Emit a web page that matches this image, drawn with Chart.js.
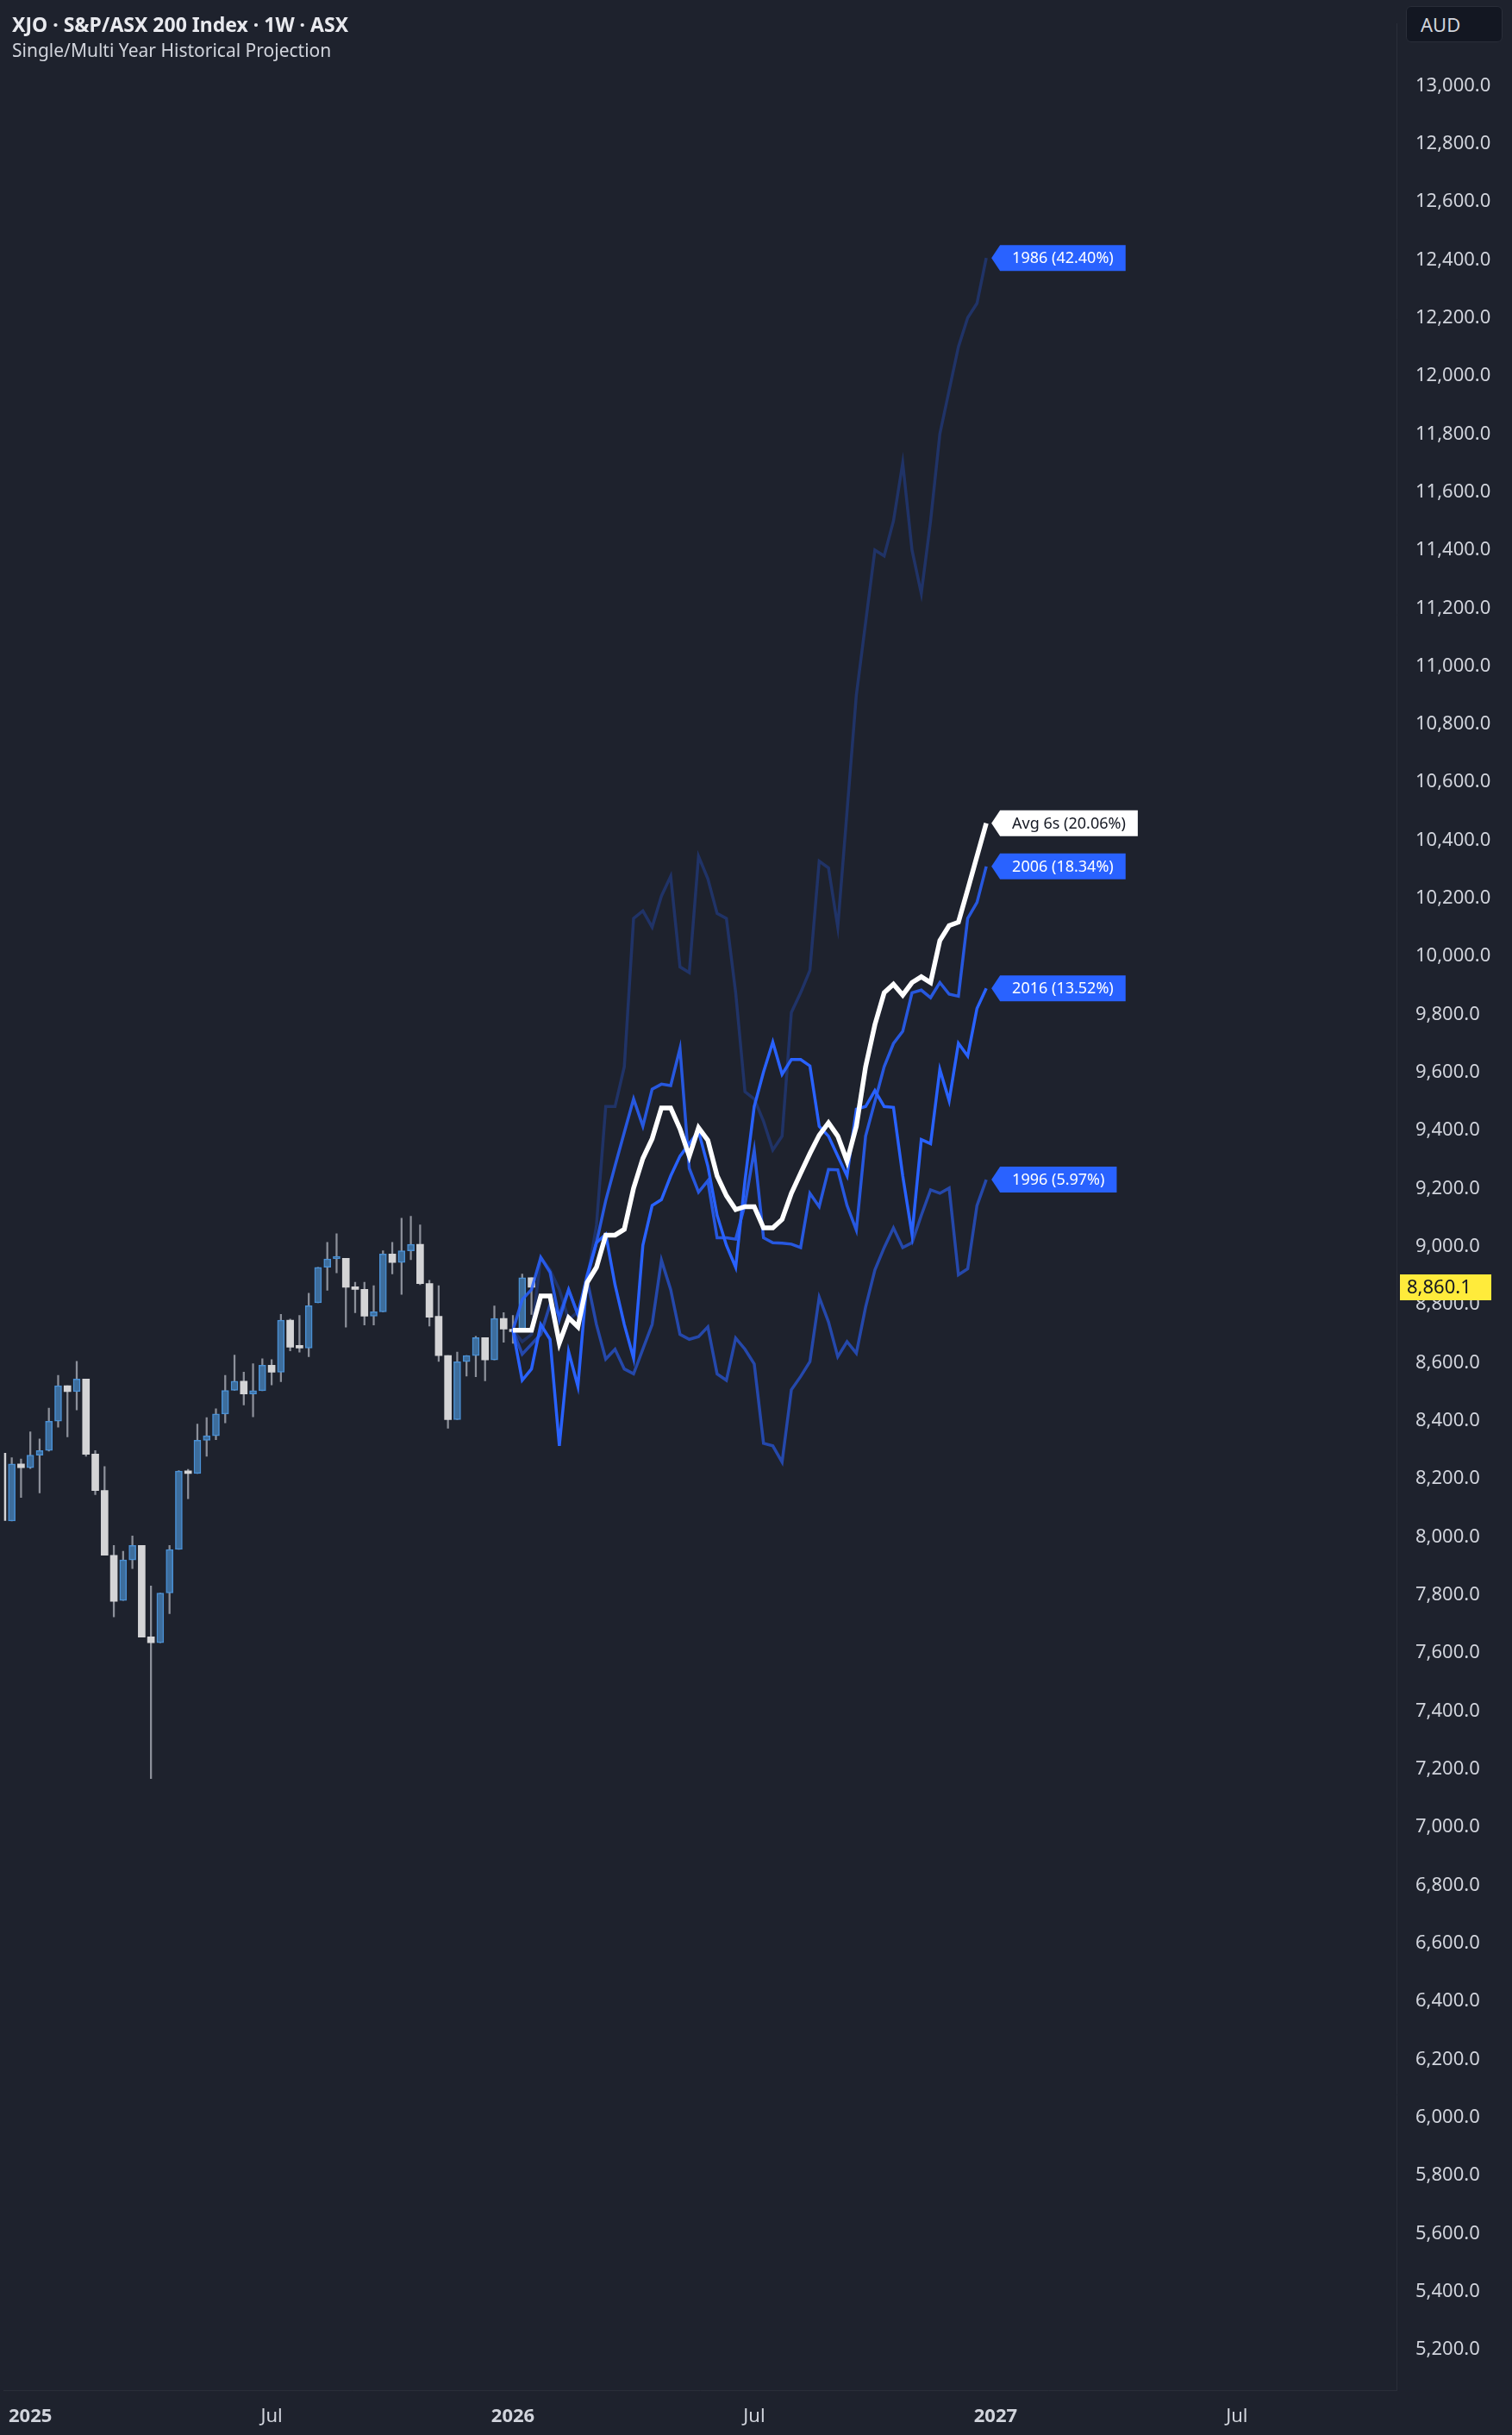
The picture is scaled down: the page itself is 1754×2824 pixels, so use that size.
<!DOCTYPE html>
<html>
<head>
<meta charset="utf-8">
<script src="https://cdn.jsdelivr.net/npm/chart.js@4.4.0/dist/chart.umd.min.js"></script>
<style>
  html, body { margin: 0; padding: 0; background: #1e222d; }
  #wrap { position: relative; width: 1754px; height: 2824px; }
  #title { position: absolute; left: 14px; top: 12px; color: #e8e9ee; font: bold 23px "Noto Sans", sans-serif; }
  #sub { position: absolute; left: 14px; top: 44px; color: #d1d4dc; font: 21px "Noto Sans", sans-serif; }
  #aud { position: absolute; left: 1631px; top: 7px; width: 112px; height: 42px; box-sizing: border-box;
         border: 1px solid #2a2e39; border-radius: 6px; background: #131722; color: #d1d4dc;
         font: 22px "Noto Sans", sans-serif; line-height: 40px; padding-left: 16px; }
</style>
</head>
<body>
<div id="wrap">
  <canvas id="chart" width="1754" height="2824"></canvas>
  <div id="title">XJO · S&amp;P/ASX 200 Index · 1W · ASX</div>
  <div id="sub">Single/Multi Year Historical Projection</div>
  <div id="aud">AUD</div>
</div>
<script>
// weekly candles, index 0 = week of 16 Dec 2024
const opens  = [8289,8055,8252,8239,8282,8298,8399,8521,8501,8544,8286,8160,7937,7781,7921,7971,7656,7636,7807,7957,
                8227,8219,8333,8349,8424,8505,8537,8493,8504,8592,8568,8747,8655,8651,8807,8929,8958,8960,8860,8853,
                8761,8776,8975,8946,8986,9008,8873,8760,8625,8404,8604,8625,8687,8610,8753,8716,8707,8893];
const closes = [8057,8252,8239,8282,8298,8399,8521,8501,8544,8285,8160,7937,7778,7921,7971,7655,7636,7807,7957,8227,
                8219,8333,8349,8424,8505,8537,8493,8504,8592,8568,8747,8654,8651,8797,8929,8958,8960,8860,8853,8761,
                8776,8975,8946,8986,9008,8873,8757,8625,8404,8604,8625,8687,8610,8753,8716,8707,8893,8860];
const highs  = [8289,8273,8269,8362,8338,8444,8557,8521,8605,8544,8298,8243,7971,7951,8004,7971,7831,7807,7971,8229,
                8233,8389,8411,8442,8557,8627,8568,8597,8614,8611,8767,8751,8763,8840,8929,9015,9045,8960,8878,8878,
                8866,8986,9015,9098,9105,9075,8884,8866,8625,8637,8625,8691,8687,8796,8773,8763,8906,8893];
const lows   = [8057,8055,8136,8236,8152,8296,8378,8345,8438,8278,8146,7937,7725,7781,7891,7655,7168,7636,7736,7957,
                8132,8219,8278,8335,8393,8505,8455,8414,8504,8524,8535,8641,8637,8621,8807,8850,8910,8723,8773,8730,
                8730,8776,8906,8836,8955,8869,8727,8605,8375,8404,8554,8552,8538,8610,8671,8667,8707,8767];

// projections start at week index 55 (5 Jan 2026)
const projStart = 55;
const avg6  = [8712,8712,8712,8830,8830,8668,8755,8724,8877,8929,9040,9040,9060,9202,9304,9372,9478,9478,9406,9312,
               9410,9367,9244,9176,9128,9138,9138,9065,9065,9094,9184,9253,9321,9384,9427,9381,9295,9415,9620,9765,
               9875,9904,9867,9910,9930,9910,10055,10106,10118,10230,10345,10459];
const y2016 = [8712,8540,8579,8732,8681,8314,8639,8519,8894,9014,9043,8869,8732,8616,9005,9142,9162,9244,9312,9355,
               9398,9278,9108,9005,8929,9227,9483,9602,9705,9594,9645,9645,9623,9415,9381,9312,9244,9474,9483,9538,
               9483,9480,9244,9043,9369,9355,9611,9503,9701,9657,9821,9890];
const y2006 = [8712,8818,8852,8963,8912,8749,8852,8766,8903,9014,9159,9278,9394,9509,9415,9543,9560,9555,9683,9270,
               9188,9227,9031,9031,9026,9145,9333,9031,9014,9012,9009,8997,9184,9138,9266,9265,9142,9057,9381,9500,
               9620,9700,9742,9875,9884,9858,9910,9870,9863,10131,10186,10310];
const y1996 = [8712,8630,8664,8698,8801,8766,8852,8766,8886,8732,8613,8647,8579,8562,8647,8732,8954,8852,8698,8681,
               8690,8724,8562,8540,8685,8647,8596,8323,8314,8258,8507,8553,8604,8826,8741,8621,8673,8633,8792,8920,
               8997,9065,8997,9014,9108,9196,9184,9202,8903,8924,9142,9231];
const y1986 = [8712,8673,8698,8963,8920,8852,8749,8775,8886,9074,9483,9483,9620,10131,10157,10101,10208,10276,9964,9944,
               10345,10268,10148,10131,9875,9534,9509,9432,9333,9381,9807,9875,9952,10328,10305,10101,10500,10900,11150,11400,
               11380,11500,11700,11400,11250,11500,11800,11950,12100,12200,12250,12406];

const xTickIdx = [3, 29, 55, 81, 107, 133];
const xTickLabels = ['2025', 'Jul', '2026', 'Jul', '2027', 'Jul'];
const lastPrice = 8860.1;

const FONT = '"Noto Sans", sans-serif';
const up = [], down = [];
const wicks = lows.map((l, i) => ({ x: i, y: [l, highs[i]] }));
opens.forEach((o, i) => {
  const c = closes[i];
  (c >= o ? up : down).push({ x: i, y: [Math.min(o, c), Math.max(o, c)] });
});
const proj = arr => arr.map((v, k) => ({ x: projStart + k, y: v }));

const series = [
  { label: '1986', data: y1986, color: 'rgba(41,98,255,0.28)', pct: '42.40%' },
  { label: '1996', data: y1996, color: 'rgba(41,98,255,0.6)', pct: '5.97%' },
  { label: '2006', data: y2006, color: 'rgba(41,98,255,0.85)', pct: '18.34%' },
  { label: '2016', data: y2016, color: '#2962ff', pct: '13.52%' }
];

const lineSets = series.map(s => ({
  type: 'line', label: s.label, data: proj(s.data), borderColor: s.color, borderWidth: 3.5,
  pointRadius: 0, tension: 0, order: 1
}));
lineSets.push({ type: 'line', label: 'Avg 6s', data: proj(avg6), borderColor: '#ffffff', borderWidth: 5.5,
  pointRadius: 0, tension: 0, order: 0 });

// end labels + last price tag
const labelsPlugin = {
  id: 'endLabels',
  afterDatasetsDraw(chart) {
    const ctx = chart.ctx, ys = chart.scales.y, xs = chart.scales.x;
    const tags = series.map(s => ({ text: s.label + ' (' + s.pct + ')', v: s.data[s.data.length - 1], bg: '#2962ff', fg: '#ffffff' }));
    tags.push({ text: 'Avg 6s (20.06%)', v: avg6[avg6.length - 1], bg: '#ffffff', fg: '#131722' });
    ctx.save();
    ctx.font = '18px ' + FONT;
    ctx.textBaseline = 'middle';
    tags.forEach(t => {
      const px = xs.getPixelForValue(projStart + avg6.length - 1) + 6;
      const py = ys.getPixelForValue(t.v);
      const w = ctx.measureText(t.text).width + 28, h = 30;
      ctx.fillStyle = t.bg;
      ctx.beginPath();
      ctx.moveTo(px, py);
      ctx.lineTo(px + 10, py - h / 2);
      ctx.lineTo(px + 10 + w, py - h / 2);
      ctx.lineTo(px + 10 + w, py + h / 2);
      ctx.lineTo(px + 10, py + h / 2);
      ctx.closePath();
      ctx.fill();
      ctx.fillStyle = t.fg;
      ctx.fillText(t.text, px + 24, py + 1);
    });
    // last price
    const py = ys.getPixelForValue(lastPrice);
    ctx.fillStyle = '#ffeb3b';
    ctx.fillRect(ys.left + 4, py - 15, 106, 30);
    ctx.fillStyle = '#131722';
    ctx.font = '22px ' + FONT;
    ctx.fillText('8,860.1', ys.left + 12, py + 1);
    ctx.restore();
  }
};

const bgPlugin = {
  id: 'bg',
  beforeDraw(chart) {
    const ctx = chart.ctx;
    ctx.save();
    ctx.fillStyle = '#1e222d';
    ctx.fillRect(0, 0, chart.width, chart.height);
    ctx.restore();
  }
};

new Chart(document.getElementById('chart'), {
  type: 'bar',
  data: {
    datasets: [
      { label: 'wick', data: wicks, backgroundColor: '#8c909a', barThickness: 1.6, order: 5, grouped: false },
      { label: 'up', data: up, backgroundColor: '#3d6d9c', borderColor: '#4a90d4', borderWidth: 1.5,
        borderSkipped: false, barThickness: 8, minBarLength: 3, order: 4, grouped: false },
      { label: 'down', data: down, backgroundColor: '#d4d4d6', borderColor: '#d4d4d6', borderWidth: 0,
        barThickness: 8, minBarLength: 3, order: 4, grouped: false },
      ...lineSets
    ]
  },
  options: {
    responsive: false,
    animation: false,
    devicePixelRatio: 1,
    layout: { padding: 0 },
    plugins: { legend: { display: false }, tooltip: { enabled: false } },
    scales: {
      x: {
        type: 'linear', min: 0.17, max: 150.2, offset: false,
        grid: { display: false },
        border: { color: '#2a2e39' },
        afterBuildTicks: s => { s.ticks = xTickIdx.map(v => ({ value: v })); },
        afterFit: s => { s.height = 52; },
        ticks: {
          color: '#d1d4dc', maxRotation: 0, autoSkip: false, padding: 10,
          font: c => ({ family: FONT, size: 22, weight: /^\d/.test(xTickLabels[xTickIdx.indexOf(c.tick && c.tick.value)] || '') ? 'bold' : 'normal' }),
          callback: v => xTickLabels[xTickIdx.indexOf(v)]
        }
      },
      y: {
        position: 'right', min: 5061, max: 13214,
        grid: { display: false },
        border: { color: '#2a2e39' },
        afterBuildTicks: s => {
          const t = [];
          for (let v = 5200; v <= 13000; v += 200) t.push({ value: v });
          s.ticks = t;
        },
        afterFit: s => { s.width = 134; },
        ticks: {
          color: '#d1d4dc', padding: 14, font: { family: FONT, size: 22 },
          callback: v => v.toLocaleString('en-US', { minimumFractionDigits: 1 })
        }
      }
    }
  },
  plugins: [bgPlugin, labelsPlugin]
});
</script>
</body>
</html>
